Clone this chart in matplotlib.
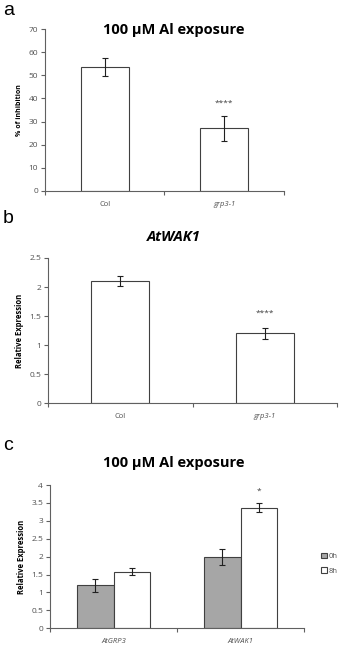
import matplotlib.pyplot as plt

plt.rcParams['font.family'] = ['Open Sans', 'DejaVu Sans']

# panel a
genotypes = ["Col", "grp3-1"]
inhib = [53.5, 27.0]
inhib_err = [3.8, 5.5]

# panel b
wak1_expr = [2.1, 1.2]
wak1_err = [0.09, 0.1]

# panel c
genes = ["AtGRP3", "AtWAK1"]
expr_0h = [1.2, 2.0]
err_0h = [0.18, 0.22]
expr_8h = [1.58, 3.37]
err_8h = [0.1, 0.12]

fig = plt.figure(figsize=(3.53, 6.45), dpi=100)
edge = "#404040"
tick_col = "#505050"


def style(ax, ymax, ystep, fmt):
    for s in ["top", "right"]:
        ax.spines[s].set_visible(False)
    for s in ["left", "bottom"]:
        ax.spines[s].set_color("#606060")
        ax.spines[s].set_linewidth(0.8)
    ax.set_xlim(-0.5, 1.5)
    ax.set_ylim(0, ymax)
    ticks = [i * ystep for i in range(int(round(ymax / ystep)) + 1)]
    ax.set_yticks(ticks)
    ax.set_yticklabels([fmt(t) for t in ticks], fontsize=6, color=tick_col)
    ax.set_xticks([-0.5, 0.5, 1.5])
    ax.set_xticklabels([])
    ax.set_xticks([0, 1], minor=True)
    ax.tick_params(axis="x", which="major", length=3, color="#606060", direction="out")
    ax.tick_params(axis="x", which="minor", length=0, pad=7, labelsize=5.5, labelcolor=tick_col)
    ax.tick_params(axis="y", length=3, color="#606060", pad=2)


ekw = dict(ecolor="#202020", elinewidth=0.8, capsize=2, capthick=0.8)

# a
ax1 = fig.add_axes([0.1275, 0.704, 0.677, 0.251])
ax1.bar([0, 1], inhib, width=0.4, color="white", edgecolor=edge, linewidth=0.8,
        yerr=inhib_err, error_kw=ekw)
style(ax1, 70, 10, lambda t: f"{t:.0f}")
ax1.set_xticklabels(genotypes, minor=True)
ax1.get_xticklabels(minor=True)[1].set_style("italic")
ax1.set_ylabel("% of inhibition", fontsize=5, fontweight="bold", labelpad=4)
ax1.text(1, 38, "****", ha="center", va="center", fontsize=6, color="#404040")
fig.text(0.493, 0.9535, "100 µM Al exposure", ha="center", va="center", fontsize=10.5, fontweight="bold")

# b
ax2 = fig.add_axes([0.136, 0.375, 0.819, 0.225])
ax2.bar([0, 1], wak1_expr, width=0.4, color="white", edgecolor=edge, linewidth=0.8,
        yerr=wak1_err, error_kw=ekw)
style(ax2, 2.5, 0.5, lambda t: f"{t:g}")
ax2.set_xticklabels(genotypes, minor=True)
ax2.get_xticklabels(minor=True)[1].set_style("italic")
ax2.set_ylabel("Relative Expression", fontsize=5.5, fontweight="bold", labelpad=4)
ax2.text(1, 1.55, "****", ha="center", va="center", fontsize=6, color="#404040")
fig.text(0.493, 0.6326, "AtWAK1", ha="center", va="center", fontsize=10.5, fontweight="bold", style="italic")

# c
ax3 = fig.add_axes([0.1416, 0.026, 0.72, 0.222])
w = 0.285
ax3.bar([x - w / 2 for x in range(2)], expr_0h, width=w, color="#a6a6a6", edgecolor=edge,
        linewidth=0.8, label="0h", yerr=err_0h, error_kw=ekw)
ax3.bar([x + w / 2 for x in range(2)], expr_8h, width=w, color="white", edgecolor=edge,
        linewidth=0.8, label="8h", yerr=err_8h, error_kw=ekw)
style(ax3, 4, 0.5, lambda t: f"{t:g}")
ax3.set_xticklabels(genes, minor=True)
for lab in ax3.get_xticklabels(minor=True):
    lab.set_style("italic")
ax3.set_ylabel("Relative Expression", fontsize=5.5, fontweight="bold", labelpad=4)
ax3.text(1 + w / 2, 3.83, "*", ha="center", va="center", fontsize=6, color="#404040")
fig.text(0.493, 0.2822, "100 µM Al exposure", ha="center", va="center", fontsize=10.5, fontweight="bold")
leg = ax3.legend(loc="center left", bbox_to_anchor=(1.04, 0.45), frameon=False, fontsize=5.5,
                 handlelength=0.7, handleheight=0.7, handletextpad=0.3, labelspacing=0.9)
for t in leg.get_texts():
    t.set_color(tick_col)

fig.text(0.008, 0.983, "a", fontsize=14, va="center", family="Liberation Sans")
fig.text(0.008, 0.662, "b", fontsize=14, va="center", family="Liberation Sans")
fig.text(0.008, 0.31, "c", fontsize=14, va="center", family="Liberation Sans")

fig.savefig("out.png", dpi=100)
